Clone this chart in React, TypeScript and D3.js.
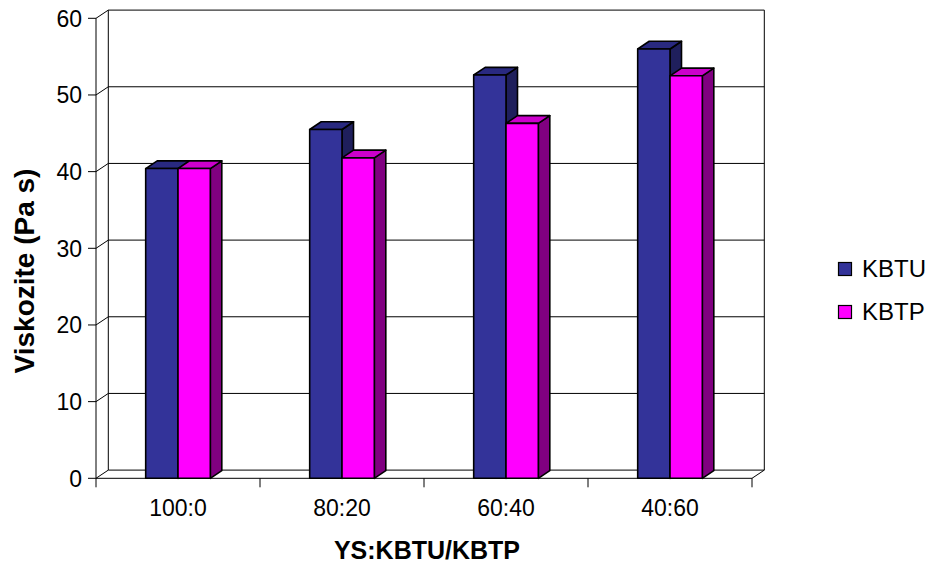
import React from "react";
import * as d3 from "d3";

// Mixing ratios on the category axis
const categories = ["100:0", "80:20", "60:40", "40:60"];
// Series names
const seriesNames = ["KBTU", "KBTP"];
// Viscosity values (Pa s) per series
const kbtuValues = [40.4, 45.5, 52.6, 56.0];
const kbtpValues = [40.4, 41.8, 46.3, 52.5];
// Value-axis ticks
const yTicks = [0, 10, 20, 30, 40, 50, 60];

const W = 934;
const H = 568;
const FONT = "'Liberation Sans', Arial, Helvetica, sans-serif";

const frontLeft = 96;
const frontRight = 752;
const frontBottom = 478.3;
const frontTop = 18.3;
// depth offsets of the 3-D box and bars
const wallDx = 12.3;
const wallDy = -8.2;
const barDx = 11.5;
const barDy = -7.7;

const fills: Record<string, { front: string; top: string; side: string }> = {
  KBTU: { front: "#333399", top: "#292980", side: "#1F1F5C" },
  KBTP: { front: "#FF00FF", top: "#CC00CC", side: "#800080" },
};

export default function App() {
  const y = d3.scaleLinear().domain([0, 60]).range([frontBottom, frontTop]);
  const x0 = d3
    .scaleBand<string>()
    .domain(categories)
    .range([frontLeft, frontRight])
    .paddingInner(0.606)
    .paddingOuter(0.303);
  const x1 = d3
    .scaleBand<string>()
    .domain(seriesNames)
    .range([0, x0.bandwidth()]);

  const valuesBySeries: Record<string, number[]> = {
    KBTU: kbtuValues,
    KBTP: kbtpValues,
  };

  const step = x0.step();
  const catEdges = d3.range(categories.length + 1).map((i) => frontLeft + i * step);

  const pts = (arr: [number, number][]) => arr.map((p) => p.join(",")).join(" ");

  return (
    <svg
      width={W}
      height={H}
      style={{ position: "absolute", left: 0, top: 0, background: "#fff" }}
      fontFamily={FONT}
    >
      {/* back wall and side wall gridlines */}
      <g stroke="#000" strokeWidth={1} fill="none">
        {yTicks.map((t) => (
          <g key={t}>
            <line x1={frontLeft} y1={y(t)} x2={frontLeft + wallDx} y2={y(t) + wallDy} />
            <line
              x1={frontLeft + wallDx}
              y1={y(t) + wallDy}
              x2={frontRight + wallDx}
              y2={y(t) + wallDy}
            />
          </g>
        ))}
        <line
          x1={frontLeft + wallDx}
          y1={y(60) + wallDy}
          x2={frontLeft + wallDx}
          y2={y(0) + wallDy}
        />
        <line
          x1={frontRight + wallDx}
          y1={y(60) + wallDy}
          x2={frontRight + wallDx}
          y2={y(0) + wallDy}
        />
        {/* floor front edge */}
        <line x1={frontLeft} y1={y(0)} x2={frontRight} y2={y(0)} />
        <line
          x1={frontRight}
          y1={y(0)}
          x2={frontRight + wallDx}
          y2={y(0) + wallDy}
        />
      </g>

      {/* bars */}
      {categories.map((c, ci) => (
        <g key={c}>
          {seriesNames.map((s) => {
            const v = valuesBySeries[s][ci];
            const xl = (x0(c) ?? 0) + (x1(s) ?? 0);
            const xr = xl + x1.bandwidth();
            const yt = y(v);
            const yb = y(0);
            const f = fills[s];
            return (
              <g key={s} stroke="#000" strokeWidth={1.6} strokeLinejoin="round">
                <polygon
                  points={pts([
                    [xr, yt],
                    [xr + barDx, yt + barDy],
                    [xr + barDx, yb + barDy],
                    [xr, yb],
                  ])}
                  fill={f.side}
                />
                <polygon
                  points={pts([
                    [xl, yt],
                    [xl + barDx, yt + barDy],
                    [xr + barDx, yt + barDy],
                    [xr, yt],
                  ])}
                  fill={f.top}
                />
                <rect x={xl} y={yt} width={xr - xl} height={yb - yt} fill={f.front} />
              </g>
            );
          })}
        </g>
      ))}

      {/* value axis */}
      <g stroke="#000" strokeWidth={1}>
        <line x1={frontLeft} y1={y(60)} x2={frontLeft} y2={y(0)} />
        {yTicks.map((t) => (
          <line key={t} x1={frontLeft - 8} y1={y(t)} x2={frontLeft} y2={y(t)} />
        ))}
        {catEdges.map((e, i) => (
          <line key={i} x1={e} y1={y(0)} x2={e} y2={y(0) + 9} />
        ))}
      </g>
      <g fontSize={23} fill="#000">
        {yTicks.map((t) => (
          <text key={t} x={82} y={y(t)} dy="0.36em" textAnchor="end">
            {t}
          </text>
        ))}
        {categories.map((c) => (
          <text
            key={c}
            x={(x0(c) ?? 0) + x0.bandwidth() / 2}
            y={516}
            textAnchor="middle"
          >
            {c}
          </text>
        ))}
      </g>

      {/* axis titles */}
      <text
        x={427}
        y={559}
        textAnchor="middle"
        fontSize={25}
        fontWeight="bold"
      >
        YS:KBTU/KBTP
      </text>
      <text
        transform={`translate(34,271) rotate(-90)`}
        textAnchor="middle"
        fontSize={28}
        fontWeight="bold"
      >
        Viskozite (Pa s)
      </text>

      {/* legend */}
      {seriesNames.map((s, i) => (
        <g key={s} transform={`translate(838,${262 + i * 43})`}>
          <rect x={0.5} y={0.5} width={13} height={13} fill={fills[s].front} stroke="#000" strokeWidth={1.2} />
          <text x={24} y={15} fontSize={24}>
            {s}
          </text>
        </g>
      ))}
    </svg>
  );
}
